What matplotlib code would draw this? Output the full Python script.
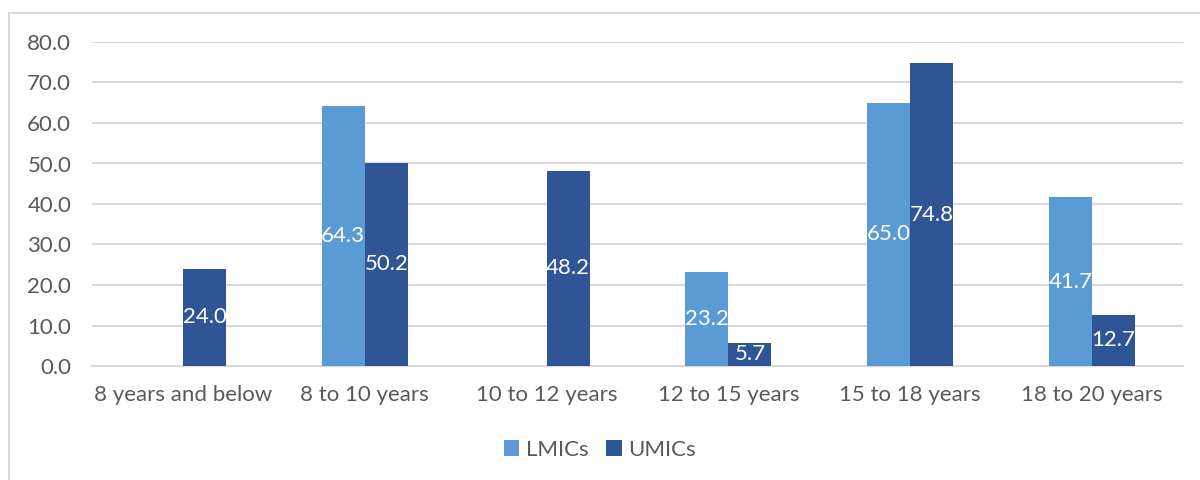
import numpy as np
import matplotlib.pyplot as plt
from matplotlib.patches import Rectangle

plt.rcParams['font.family'] = ['Lato', 'DejaVu Sans']

# Data
categories = ['8 years and below', '8 to 10 years', '10 to 12 years',
              '12 to 15 years', '15 to 18 years', '18 to 20 years']
lmics = [None, 64.3, None, 23.2, 65.0, 41.7]
umics = [24.0, 50.2, 48.2, 5.7, 74.8, 12.7]
yticks = [0, 10, 20, 30, 40, 50, 60, 70, 80]

grey_text = '#595959'
grid_col = '#D9D9D9'
c_lmic = '#5B9BD5'
c_umic = '#2F5597'
fs = 16

fig = plt.figure(figsize=(12, 4.8), dpi=100)
ax = fig.add_axes([0.0767, 0.2375, 0.909, 0.675])

# chart-area border (cut off on the right and bottom in the original)
fig.patches.append(Rectangle((9 / 1200, -0.05), 1.2, 1 - 13 / 480 + 0.05,
                             transform=fig.transFigure, fill=False,
                             edgecolor=grid_col, linewidth=1.5))

x = np.arange(len(categories))
w = 0.237
lm_vals = [v if v is not None else 0 for v in lmics]
b1 = ax.bar(x - w / 2, lm_vals, w, color=c_lmic, label='LMICs', zorder=3)
b2 = ax.bar(x + w / 2, umics, w, color=c_umic, label='UMICs', zorder=3)

lm_labels = ['' if v is None else f'{v:.1f}' for v in lmics]
ax.bar_label(b1, labels=lm_labels, label_type='center', color='white', fontsize=fs)
ax.bar_label(b2, labels=[f'{v:.1f}' for v in umics], label_type='center',
             color='white', fontsize=fs)

ax.set_xlim(-0.5, len(categories) - 0.5)
ax.set_ylim(0, 80)
ax.set_yticks(yticks)
ax.set_yticklabels([f'{t:.1f}' for t in yticks])
ax.set_xticks(x)
ax.set_xticklabels(categories)
ax.tick_params(axis='both', length=0, labelsize=fs, labelcolor=grey_text)
ax.tick_params(axis='x', pad=14)
ax.tick_params(axis='y', pad=15)
ax.yaxis.grid(True, color=grid_col, linewidth=1.5, zorder=0)
for s in ['top', 'right', 'left']:
    ax.spines[s].set_visible(False)
ax.spines['bottom'].set_color(grid_col)
ax.spines['bottom'].set_linewidth(1.5)

fig.legend(loc='center', bbox_to_anchor=(0.5, 1 - 450 / 480), ncol=2,
           frameon=False, fontsize=fs, labelcolor=grey_text,
           handlelength=0.7, handleheight=0.7, handletextpad=0.3,
           columnspacing=0.8)

fig.savefig('out.png', dpi=100, facecolor='white')
